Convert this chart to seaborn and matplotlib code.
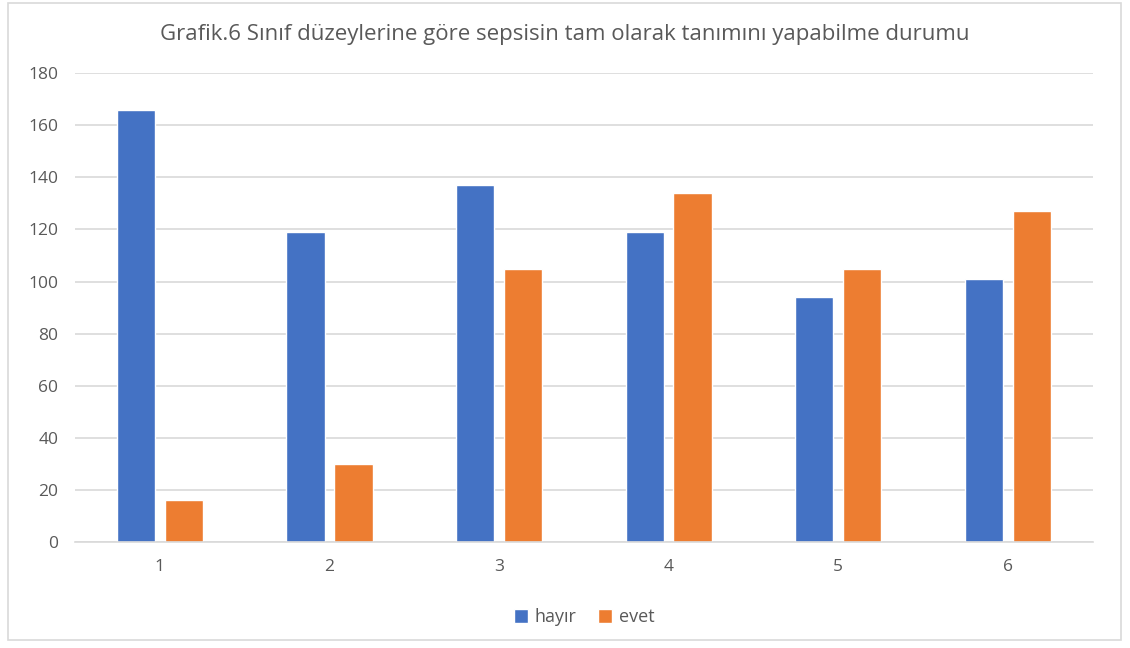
import pandas as pd
import seaborn as sns
import matplotlib.pyplot as plt
from matplotlib.patches import Rectangle

# ==================== 数据 ====================
siniflar = ["1", "2", "3", "4", "5", "6"]
hayir = [166, 119, 137, 119, 94, 101]
evet = [16, 30, 105, 134, 105, 127]
seriler = ["hayır", "evet"]
renkler = ["#4472C4", "#ED7D31"]

df = pd.DataFrame({
    "sinif": siniflar * 2,
    "deger": hayir + evet,
    "durum": [seriler[0]] * len(siniflar) + [seriler[1]] * len(siniflar),
})

sns.set_theme(style="white")
plt.rcParams['font.family'] = ['Open Sans', 'DejaVu Sans']
GRI = "#595959"

fig = plt.figure(figsize=(11.3, 6.48), dpi=100)
ax = fig.add_axes([0.0664, 0.1636, 0.9006, 0.7234])

sns.barplot(data=df, x="sinif", y="deger", hue="durum", palette=renkler,
            width=0.565, gap=0.2, saturation=1, ax=ax, legend=True)

ax.set_ylim(0, 180)
ax.set_yticks(range(0, 181, 20))
ax.set_xlim(-0.5, 5.5)
ax.yaxis.grid(True, color="#D9D9D9", linewidth=1.2)
ax.set_axisbelow(True)
for s in ["top", "right", "left"]:
    ax.spines[s].set_visible(False)
ax.spines["bottom"].set_color("#D9D9D9")
ax.spines["bottom"].set_linewidth(1.2)
ax.tick_params(axis="both", length=0, labelsize=12.5, labelcolor=GRI, pad=12)
ax.set_xlabel("")
ax.set_ylabel("")

fig.text(0.5, 0.947, "Grafik.6 Sınıf düzeylerine göre sepsisin tam olarak tanımını yapabilme durumu",
         ha="center", va="center", fontsize=16, color=GRI)

leg = ax.legend(loc="center", bbox_to_anchor=(0.5, -0.16), ncol=2, frameon=False,
                fontsize=13, handlelength=0.8, handleheight=0.8, handletextpad=0.35,
                columnspacing=1.2)
for t in leg.get_texts():
    t.set_color(GRI)

# dış çerçeve
fig.patches.append(Rectangle((0.007, 0.012), 0.985, 0.983, transform=fig.transFigure,
                             fill=False, edgecolor="#D9D9D9", linewidth=1.2))

fig.savefig("out.png", dpi=100)
